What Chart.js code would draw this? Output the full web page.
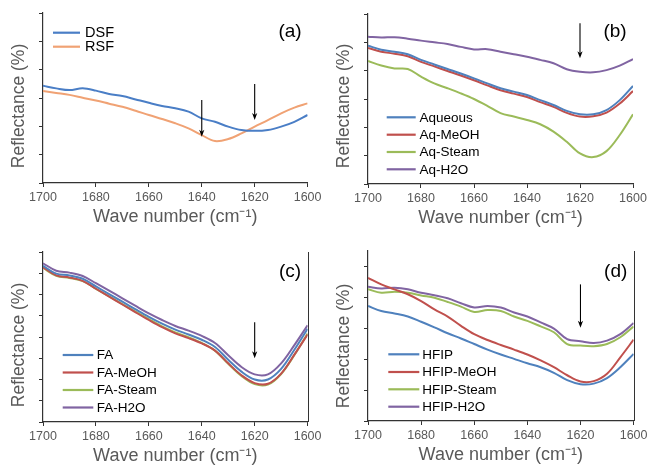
<!DOCTYPE html>
<html><head><meta charset="utf-8">
<script src="https://cdn.jsdelivr.net/npm/chart.js@4.4.1/dist/chart.umd.min.js"></script>
<style>
html,body{margin:0;padding:0;background:#fff;}
#wrap{position:relative;width:651px;height:467px;overflow:hidden;}
canvas{position:absolute;}
</style></head><body>
<div id="wrap">
<canvas id="ca" width="325" height="230" style="left:0;top:0"></canvas>
<canvas id="cb" width="326" height="230" style="left:325px;top:0"></canvas>
<canvas id="cc" width="325" height="237" style="left:0;top:230px"></canvas>
<canvas id="cd" width="326" height="237" style="left:325px;top:230px"></canvas>
</div>
<script>
// ---- data ----
const wavenumbers = [1700,1695,1690,1685,1680,1675,1670,1665,1660,1655,1650,1645,1640,1635,1630,1625,1620,1615,1610,1605,1600];
const xTicks = [1700,1680,1660,1640,1620,1600];

// (a)
const dsf = [3.43,3.34,3.28,3.34,3.26,3.14,3.07,2.95,2.83,2.72,2.64,2.52,2.28,2.16,1.99,1.87,1.84,1.87,1.99,2.16,2.40];
const rsf = [3.25,3.18,3.11,3.01,2.91,2.80,2.69,2.55,2.40,2.26,2.11,1.93,1.69,1.48,1.55,1.75,1.99,2.22,2.46,2.66,2.81];
// (b)
const aqueous = [4.88,4.74,4.67,4.58,4.38,4.22,4.06,3.90,3.73,3.55,3.38,3.26,3.14,2.96,2.79,2.58,2.46,2.46,2.61,2.96,3.46];
const aqMeOH  = [4.80,4.67,4.60,4.51,4.31,4.15,3.99,3.83,3.66,3.48,3.31,3.19,3.07,2.89,2.72,2.51,2.38,2.39,2.52,2.84,3.28];
const aqSteam = [4.34,4.18,4.08,4.06,3.79,3.55,3.38,3.20,3.00,2.76,2.50,2.38,2.26,2.11,1.85,1.49,1.08,0.95,1.16,1.73,2.46];
const aqH2O   = [5.20,5.17,5.18,5.13,5.06,5.00,4.94,4.84,4.75,4.76,4.67,4.58,4.49,4.38,4.26,4.05,3.96,3.94,4.02,4.18,4.41];
// (c)
const fa      = [7.35,6.98,6.90,6.74,6.38,6.02,5.66,5.30,4.95,4.63,4.35,4.12,3.87,3.53,2.93,2.37,2.00,2.00,2.50,3.40,4.39];
const faMeOH  = [7.28,6.90,6.80,6.64,6.27,5.90,5.53,5.16,4.80,4.46,4.17,3.95,3.70,3.36,2.76,2.20,1.83,1.80,2.28,3.17,4.12];
const faSteam = [7.25,6.88,6.78,6.63,6.27,5.91,5.55,5.19,4.84,4.50,4.22,3.99,3.72,3.36,2.74,2.17,1.78,1.76,2.26,3.15,4.16];
const faH2O   = [7.47,7.12,7.03,6.87,6.53,6.18,5.82,5.46,5.11,4.80,4.52,4.30,4.05,3.72,3.14,2.59,2.24,2.24,2.76,3.62,4.55];
// (d)
const hfip      = [3.72,3.56,3.48,3.38,3.21,3.03,2.84,2.67,2.49,2.31,2.15,2.01,1.87,1.74,1.56,1.32,1.19,1.21,1.39,1.74,2.17];
const hfipMeOH  = [4.63,4.42,4.26,4.10,3.88,3.61,3.38,3.08,2.81,2.62,2.46,2.31,2.15,1.96,1.74,1.48,1.28,1.29,1.53,2.06,2.63];
const hfipSteam = [4.26,4.15,4.18,4.15,4.06,3.99,3.85,3.70,3.53,3.59,3.56,3.38,3.24,3.06,2.87,2.49,2.44,2.42,2.49,2.71,3.06];
const hfipH2O   = [4.34,4.29,4.31,4.26,4.15,4.07,3.97,3.81,3.67,3.72,3.67,3.51,3.38,3.19,2.99,2.65,2.58,2.52,2.60,2.81,3.17];

// arrows (wavenumber, start value, tip value)
const arrowsA = [{x:1640, y1:2.93, y2:1.63}, {x:1620, y1:3.49, y2:2.22}];
const arrowsB = [{x:1620, y1:5.67, y2:4.44}];
const arrowsC = [{x:1620, y1:4.70, y2:3.00}];
const arrowsD = [{x:1620, y1:4.42, y2:3.02}];

// ---- styling ----
const FONT = "'Liberation Sans', Arial, Helvetica, sans-serif";
Chart.defaults.font.family = FONT;
const C_BLUE='#4F81BD', C_RED='#C0504D', C_GREEN='#9BBB59', C_PURPLE='#8064A2', C_ORANGE='#F0A274', C_DBLUE='#4A7EC6';
const AXIS='#333333', GREY='#595959';

const decor = {
  id:'decor',
  afterDatasetsDraw(chart, args, o){
    const ctx = chart.ctx, xs = chart.scales.x, ys = chart.scales.y, ca = chart.chartArea;
    ctx.save();
    if (o.rightBorder){
      ctx.strokeStyle=AXIS; ctx.lineWidth=1;
      ctx.beginPath(); ctx.moveTo(Math.round(ca.right)+0.5, ca.top); ctx.lineTo(Math.round(ca.right)+0.5, ca.bottom); ctx.stroke();
    }
    // arrows
    ctx.strokeStyle='#000'; ctx.fillStyle='#000'; ctx.lineWidth=1.1;
    (o.arrows||[]).forEach(a=>{
      const px = xs.getPixelForValue(a.x), p1 = ys.getPixelForValue(a.y1), p2 = ys.getPixelForValue(a.y2);
      ctx.beginPath(); ctx.moveTo(px,p1); ctx.lineTo(px,p2-3); ctx.stroke();
      ctx.beginPath(); ctx.moveTo(px,p2); ctx.lineTo(px-2.6,p2-7); ctx.lineTo(px,p2-5); ctx.lineTo(px+2.6,p2-7); ctx.closePath(); ctx.fill();
    });
    // legend
    const lg = o.legend;
    ctx.font = lg.size+'px '+FONT; ctx.textAlign='left'; ctx.textBaseline='middle';
    chart.data.datasets.forEach((ds,i)=>{
      const y = lg.y[i];
      ctx.strokeStyle=ds.borderColor; ctx.lineWidth=2.2;
      ctx.beginPath(); ctx.moveTo(lg.x1,y); ctx.lineTo(lg.x2,y); ctx.stroke();
      ctx.fillStyle='#000'; ctx.fillText(ds.label, lg.tx, y+0.5);
    });
    // panel label
    ctx.font = '19px '+FONT; ctx.textAlign='center'; ctx.fillStyle='#000';
    ctx.fillText(o.tag, o.tagX, o.tagY);
    // y title
    ctx.translate(o.yTitleX, o.yTitleY); ctx.rotate(-Math.PI/2);
    ctx.font = '17.5px '+FONT; ctx.fillStyle=GREY; ctx.textAlign='center';
    ctx.fillText('Reflectance (%)', 0, 0);
    ctx.restore();
  }
};

function makeChart(id, W, H, area, yMax, series, extra){
  const axisH = H - area.b;
  new Chart(document.getElementById(id), {
    type:'line',
    data:{ datasets: series.map(s=>({
      label:s.label, borderColor:s.color, backgroundColor:s.color, borderWidth:2,
      pointRadius:0, tension:0.35, fill:false,
      data: s.values.map((v,i)=>({x:wavenumbers[i], y:v}))
    }))},
    options:{
      responsive:false, animation:false, events:[],
      layout:{ padding:{top:area.t, right:W-area.r, bottom:0, left:0}, autoPadding:false },
      plugins:{ legend:{display:false}, tooltip:{enabled:false}, decor: extra },
      scales:{
        x:{ type:'linear', reverse:true, min:1600, max:1700,
            afterBuildTicks: s=>{ s.ticks = xTicks.map(v=>({value:v})); },
            ticks:{ color:GREY, font:{size:12.5}, padding:3.5, maxRotation:0, autoSkip:false, callback:v=>String(v) },
            grid:{ drawOnChartArea:false, tickLength:4, color:AXIS, tickColor:AXIS },
            border:{ color:AXIS, width:1.2 },
            title:{ display:true, text:'Wave number (cm\u207B\u00B9)', color:GREY, font:{size:18}, padding:{top:0, bottom:axisH-34-10.8} },
            afterFit: s=>{ s.height = axisH; } },
        y:{ min:0, max:yMax,
            afterBuildTicks: s=>{ const t=[]; for(let v=0; v<=yMax+1e-9; v+=1) t.push({value:v}); s.ticks=t; },
            ticks:{ display:false },
            grid:{ drawOnChartArea:false, tickLength:4, color:AXIS, tickColor:AXIS },
            border:{ color:AXIS, width:1.2 },
            afterFit: s=>{ s.width = area.l; } }
      }
    },
    plugins:[decor]
  });
}

makeChart('ca', 325, 230, {l:43,t:13,r:309,b:183}, 6, [
  {label:'DSF', color:C_DBLUE, values:dsf},
  {label:'RSF', color:C_ORANGE, values:rsf}
], {arrows:arrowsA, legend:{x1:53,x2:80,tx:85,y:[32.7,46.7],size:14.5}, tag:'(a)', tagX:290, tagY:32, yTitleX:19, yTitleY:106, rightBorder:false});

makeChart('cb', 326, 230, {l:43,t:14,r:308,b:184}, 6, [
  {label:'Aqueous', color:C_BLUE, values:aqueous},
  {label:'Aq-MeOH', color:C_RED, values:aqMeOH},
  {label:'Aq-Steam', color:C_GREEN, values:aqSteam},
  {label:'Aq-H2O', color:C_PURPLE, values:aqH2O}
], {arrows:arrowsB, legend:{x1:61.7,x2:90.7,tx:94.5,y:[117.3,134.7,152,169.3],size:13.5}, tag:'(b)', tagX:290, tagY:32, yTitleX:19, yTitleY:106, rightBorder:false});

makeChart('cc', 325, 237, {l:43,t:22,r:309,b:192}, 8, [
  {label:'FA', color:C_BLUE, values:fa},
  {label:'FA-MeOH', color:C_RED, values:faMeOH},
  {label:'FA-Steam', color:C_GREEN, values:faSteam},
  {label:'FA-H2O', color:C_PURPLE, values:faH2O}
], {arrows:arrowsC, legend:{x1:62.7,x2:93.3,tx:96.7,y:[125,142.5,160,177.5],size:13.5}, tag:'(c)', tagX:290, tagY:42, yTitleX:19, yTitleY:115, rightBorder:true});

makeChart('cd', 326, 237, {l:43,t:21,r:310,b:191}, 5.5, [
  {label:'HFIP', color:C_BLUE, values:hfip},
  {label:'HFIP-MeOH', color:C_RED, values:hfipMeOH},
  {label:'HFIP-Steam', color:C_GREEN, values:hfipSteam},
  {label:'HFIP-H2O', color:C_PURPLE, values:hfipH2O}
], {arrows:arrowsD, legend:{x1:63.3,x2:94.3,tx:97.3,y:[124.3,142,159.3,176.7],size:13.5}, tag:'(d)', tagX:290.7, tagY:42, yTitleX:19, yTitleY:116, rightBorder:true});
</script>
</body></html>
